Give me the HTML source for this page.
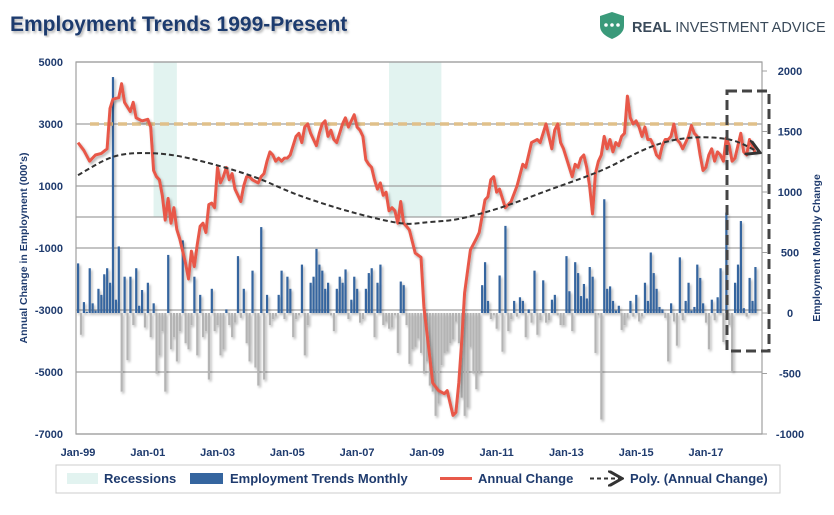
<!DOCTYPE html>
<html><head><meta charset="utf-8">
<style>
body{margin:0;background:#fff;}
svg text{font-family:"Liberation Sans",sans-serif;}
</style></head>
<body>
<svg id="chart" width="834" height="510" viewBox="0 0 834 510" xmlns="http://www.w3.org/2000/svg">
<defs>
<filter id="sh" x="-5%" y="-5%" width="110%" height="110%"><feDropShadow dx="1.5" dy="2" stdDeviation="1.2" flood-color="#000" flood-opacity="0.3"/></filter>
<marker id="arr" markerWidth="8" markerHeight="8" refX="6" refY="4" orient="auto"><path d="M0,0 L7,4 L0,8" fill="none" stroke="#333" stroke-width="1.5"/></marker>
</defs>
<rect x="0" y="0" width="834" height="510" fill="#fff"/>
<text x="10" y="31" font-size="21" font-weight="bold" fill="#1f3b6e" filter="url(#sh)">Employment Trends 1999-Present</text>
<g>
<path d="M600,16 L612,12 L624,16 L624,26 Q624,34 612,39 Q600,34 600,26 Z" fill="#3a9a7a"/>
<circle cx="606" cy="25" r="1.8" fill="#fff"/><circle cx="612" cy="25" r="1.8" fill="#fff"/><circle cx="618" cy="25" r="1.8" fill="#fff"/>
<text x="632" y="32" font-size="14.5" fill="#3a4a5a" font-weight="bold">REAL <tspan font-weight="normal">INVESTMENT ADVICE</tspan></text>
</g>
<g id="plot"></g>
<text transform="translate(27,248) rotate(-90)" text-anchor="middle" font-size="10.5" font-weight="bold" fill="#1f3b6e">Annual Change in Employment (000's)</text>
<text transform="translate(820,248) rotate(-90)" text-anchor="middle" font-size="10.5" font-weight="bold" fill="#1f3b6e">Employment Monthly Change</text>
<g>
<rect x="56" y="465" width="724" height="28" fill="#fff" stroke="#ccc"/>
<rect x="67" y="473" width="31" height="11" fill="#e2f3f0"/>
<text x="104" y="483" font-size="13" fill="#1f3b6e" font-weight="bold">Recessions</text>
<rect x="190" y="473" width="33" height="11" fill="#35659f"/>
<text x="230" y="483" font-size="13" fill="#1f3b6e" font-weight="bold">Employment Trends Monthly</text>
<line x1="440" y1="478.5" x2="472" y2="478.5" stroke="#e8594a" stroke-width="3"/>
<text x="478" y="483" font-size="13" fill="#1f3b6e" font-weight="bold">Annual Change</text>
<line x1="590" y1="478.5" x2="620" y2="478.5" stroke="#333" stroke-width="2" stroke-dasharray="4,3" marker-end="url(#arr)"/>
<text x="630" y="483" font-size="13" fill="#1f3b6e" font-weight="bold">Poly. (Annual Change)</text>
</g>
</svg>
<script>
const leftTicks=[5000,3000,1000,-1000,-3000,-5000,-7000];
const rightTicks=[2000,1500,1000,500,0,-500,-1000];
const xLabels=["Jan-99","Jan-01","Jan-03","Jan-05","Jan-07","Jan-09","Jan-11","Jan-13","Jan-15","Jan-17"];
const xLabelMonths=[0,24,48,72,96,120,144,168,192,216];
const recessions=[[26,34],[107,125]];
const monthly=[410,-180,90,10,370,80,20,200,150,320,370,250,
1950,110,550,-650,300,-390,300,-100,370,60,190,-120,
250,-200,80,-500,-350,-150,-650,480,-300,-200,-400,-150,
600,-250,-300,-100,300,-350,150,-200,-150,-550,200,-150,
-100,-350,-300,30,-100,-200,-80,470,-40,200,-250,-400,
350,-450,-600,710,-550,150,-100,-50,-30,150,350,-50,
300,200,-200,-50,-20,400,-350,-100,250,300,530,400,
350,200,250,-20,-150,200,300,250,360,-50,110,300,
200,-80,-50,200,330,370,-200,250,400,-100,-70,-130,
-120,-20,-330,260,230,-100,-420,-300,-280,-210,-330,-500,
-400,-600,-650,-850,-750,-430,-330,-320,-250,-220,-70,-250,
-700,-850,-780,-280,-500,-630,-500,230,420,100,-50,-20,
-130,310,-320,720,-150,-50,100,-30,130,100,-200,30,
-80,350,-180,-60,270,-80,-60,110,150,-20,-100,-100,
470,180,-150,420,330,140,240,120,380,300,-330,-20,
-880,940,200,220,100,20,60,-140,-100,-40,100,-30,
150,-70,-30,250,100,500,330,200,50,30,-40,-400,
80,-70,-270,460,-60,100,250,20,50,400,290,80,
-80,-300,110,-60,130,370,-240,830,-100,-480,250,400,
760,40,-30,290,100,380];
const annualMonths=[0,2,4,6,8,10,11,12,14,15,16,17,18,19,20,22,24,25,26,27,28,29,30,31,32,33,34,35,37,38,39,40,41,42,43,44,45,46,47,48,49,50,51,52,53,54,55,56,57,58,59,60,62,63,64,65,66,67,68,69,70,71,72,73,74,75,76,77,78,79,80,81,82,83,84,85,86,87,88,89,90,91,92,93,94,95,96,97,98,99,100,101,102,103,104,105,106,107,108,109,110,111,112,113,114,116,118,119,121,122,124,126,127,128,129,130,131,132,133,135,137,138,140,141,142,143,144,145,147,149,151,153,154,156,158,159,161,162,163,164,165,166,167,168,170,171,172,173,174,175,176,177,178,179,180,181,182,183,184,185,186,187,188,189,190,191,192,193,194,195,196,197,198,199,200,201,202,203,204,205,206,207,208,209,210,211,212,213,214,215,216,217,218,219,220,221,222,223,224,225,226,227,228,229,230,231,232,233];
const annualValues=[2400,2150,1800,2000,2050,2200,3500,3800,3850,4300,3700,3550,3400,3700,3200,3100,3150,2900,1500,1300,1200,700,-100,600,-200,300,-400,-700,-1500,-2000,-1100,-1600,-900,-300,-200,-500,400,450,300,1600,1100,1300,1600,1200,1400,900,700,500,1000,1300,1300,1200,1100,1300,1400,1800,2100,2000,1800,1900,1800,1900,1900,2000,2300,2600,2700,2400,2900,3000,2700,2500,2300,2700,3000,3100,2600,2800,2500,2400,2700,3000,3200,2900,3100,3300,2900,2800,2600,1850,1700,1600,1200,900,1100,700,800,200,300,200,-200,500,-200,-300,-420,-1160,-1300,-2900,-4500,-5350,-5600,-5700,-5600,-6000,-6400,-6300,-5350,-4000,-2450,-1060,-700,-500,550,650,1200,1300,800,900,300,500,1000,1700,1600,2400,2500,2400,3000,2600,2200,2800,3000,2400,2200,1900,1300,1700,1600,1900,2000,1600,1000,100,1400,1800,2000,2600,2200,2500,2100,2400,2300,2600,2700,3900,3200,3000,3100,2900,2600,2900,2500,2500,2300,2000,1900,2300,2500,2500,2600,3000,2500,2400,2200,2400,2600,2950,2700,2600,2000,1500,1600,2000,2200,1800,2100,2000,1800,2550,2300,1800,1900,2300,2700,2100,2000,2500,2300,2050];
const polyMonths=[0,12,24,38,59,76,94,111,121,131,145,162,180,197,210,224,234];
const polyValues=[1350,1940,2060,1900,1350,700,160,-200,-160,-60,290,870,1500,2260,2550,2500,2100];
const refLevel=3000;

const NS="http://www.w3.org/2000/svg";
const X0=78,MW=2.907,PL=76,PR=762,PT=62,PB=434;
function xs(m){return X0+m*MW;}
function yl(v){return PT+(5000-v)*(PB-PT)/12000;}
function yr(v){return 313+(0-v)*(434-313)/1000;}
const g=document.getElementById('plot');
function mk(tag,attrs,parent){const e=document.createElementNS(NS,tag);for(const k in attrs)e.setAttribute(k,attrs[k]);(parent||g).appendChild(e);return e;}

recessions.forEach(r=>{
  const e=mk('rect',{x:xs(r[0]),y:PT,width:xs(r[1])-xs(r[0]),height:217-PT,fill:'#e2f3f0'});
  
  
});
leftTicks.forEach(t=>{
  const y=yl(t);
  const l=mk('line',{x1:PL,x2:PR,y1:y,y2:y,stroke:'#a0a0a0','stroke-width':1.2});
  
  
  const tx=mk('text',{x:63,y:y+4,'text-anchor':'end','font-size':11,'font-weight':'bold',fill:'#1f3b6e'});
  tx.textContent=t;
  
  
});
const extra=mk('line',{x1:PL,x2:PR,y1:217,y2:217,stroke:'#a0a0a0','stroke-width':1.2});


rightTicks.forEach(t=>{
  const y=yr(t);
  const l=mk('line',{x1:PR,x2:PR+5,y1:y,y2:y,stroke:'#a0a0a0'});
  
  
  const tx=mk('text',{x:790,y:y+4,'text-anchor':'middle','font-size':11,'font-weight':'bold',fill:'#1f3b6e'});
  tx.textContent=t;
  
  
});
const fr=mk('rect',{x:PL,y:PT,width:PR-PL,height:PB-PT,fill:'none',stroke:'#a0a0a0','stroke-width':1.2});


xLabels.forEach((s,i)=>{
  const tx=mk('text',{x:xs(xLabelMonths[i]),y:456,'text-anchor':'middle','font-size':11,'font-weight':'bold',fill:'#1f3b6e'});
  tx.textContent=s;
  
  
});
const bars=mk('g',{filter:'url(#sh)'});


monthly.forEach((v,i)=>{
  const y0=yr(0),y1=yr(v);
  const b=mk('rect',{x:xs(i)-1,y:Math.min(y0,y1),width:2.2,height:Math.abs(y1-y0),fill:v>=0?'#35659f':'#b4b4b4'},bars);
  
  
});
const ref=mk('line',{x1:90,x2:PR,y1:yl(refLevel),y2:yl(refLevel),stroke:'#e0c08a','stroke-width':3.5,'stroke-dasharray':'9,5'});


let d='';
annualMonths.forEach((m,i)=>{d+=(i?'L':'M')+xs(m).toFixed(1)+','+yl(annualValues[i]).toFixed(1);});
const al=mk('path',{d:d,fill:'none',stroke:'#e8594a','stroke-width':3,'stroke-linejoin':'round',filter:'url(#sh)'});


const pts=polyMonths.map((m,i)=>[xs(m),yl(polyValues[i])]);
let pd='M'+pts[0][0]+','+pts[0][1];
for(let i=0;i<pts.length-1;i++){
  const p0=pts[Math.max(0,i-1)],p1=pts[i],p2=pts[i+1],p3=pts[Math.min(pts.length-1,i+2)];
  const c1=[p1[0]+(p2[0]-p0[0])/6,p1[1]+(p2[1]-p0[1])/6],c2=[p2[0]-(p3[0]-p1[0])/6,p2[1]-(p3[1]-p1[1])/6];
  pd+='C'+c1[0].toFixed(1)+','+c1[1].toFixed(1)+' '+c2[0].toFixed(1)+','+c2[1].toFixed(1)+' '+p2[0].toFixed(1)+','+p2[1].toFixed(1);
}
const pl=mk('path',{d:pd,fill:'none',stroke:'#333','stroke-width':2,'stroke-dasharray':'5,3','marker-end':'url(#arr)'});


const hb=mk('rect',{x:727,y:91,width:42,height:260,fill:'none',stroke:'#444','stroke-width':3,'stroke-dasharray':'10,5'});


</script>
</body></html>
